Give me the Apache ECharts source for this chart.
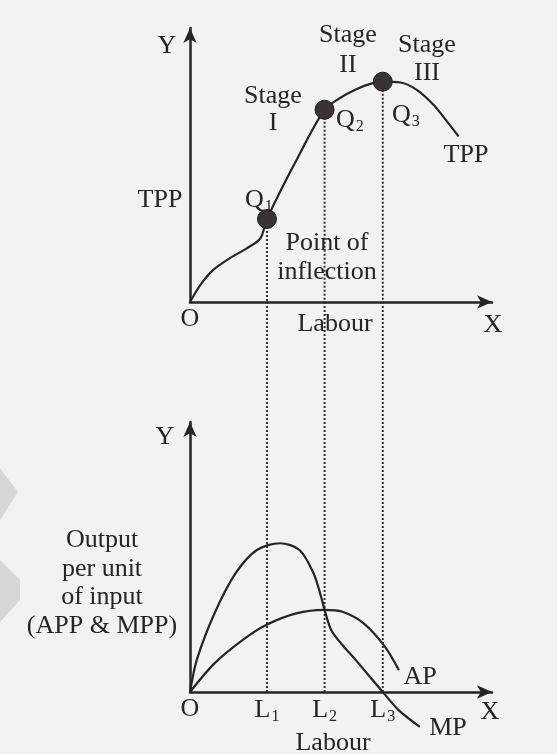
<!DOCTYPE html>
<html>
<head>
<meta charset="utf-8">
<script src="https://cdn.jsdelivr.net/npm/echarts@6/dist/echarts.min.js"></script>
<style>
html, body { margin: 0; padding: 0; background: #f1f2f1; }
#chart { width: 557px; height: 754px; }
</style>
</head>
<body>
<div id="chart"></div>
<script>
// labour at L1, L2, L3 (same positions as Q1, Q2, Q3)
const labourMarks = [25.8, 45.1, 64.6];
// TPP at Q1, Q2, Q3
const tppMarks = [30.5, 70.6, 80.9];
// total physical product curve [labour, output]
const tppCurve = [[0, 0], [3.9, 6.9], [7.8, 11.8], [13.4, 16.1], [19.0, 19.7], [23.6, 23.4], [25.8, 30.5],
  [35.2, 51.1], [45.1, 70.6], [50.3, 74.9], [55.9, 78.2], [60.4, 80.1], [64.6, 80.9], [70.5, 80.6],
  [76.0, 77.9], [81.6, 72.4], [86.1, 66.3], [90.0, 60.8]];
// marginal and average product curves
const mpCurve = [[0, 0], [2.3, 12], [8.2, 29.1], [15.3, 44.0], [22.4, 52.6], [30.2, 55.1], [36.7, 52.6],
  [41.4, 44.0], [44.0, 35.0], [45.1, 30.4], [47.3, 23.0], [51.0, 17.5], [55.5, 11.9], [64.6, 0],
  [69.9, -6.7], [77.0, -12.9]];
const apCurve = [[0, 0], [8.2, 10.6], [17.7, 19.3], [25.5, 24.8], [35.6, 29.1], [45.1, 30.4], [51.1, 29.7],
  [58.2, 25.4], [65.3, 16.8], [70.0, 8.1]];
const xTickNames = ['O', 'L', 'L', 'L'];

const serif = '"Liberation Serif", "Times New Roman", serif';
const ink = '#262424';
const chart = echarts.init(document.getElementById('chart'));

const axisLine = {
  show: true,
  onZero: true,
  symbol: ['none', 'arrow'],
  symbolSize: [10, 15],
  lineStyle: { color: ink, width: 2.5 }
};
const rich = {
  m: { fontFamily: serif, fontSize: 26, color: ink },
  s: { fontFamily: serif, fontSize: 16, color: ink, padding: [13, 0, 0, 1] }
};

function xLabel(v) {
  if (v === 0) return '{m|O}';
  let i = 0;
  labourMarks.forEach((m, k) => { if (Math.abs(m - v) < Math.abs(labourMarks[i] - v)) i = k; });
  return '{m|' + xTickNames[i + 1] + '}{s|' + (i + 1) + '}';
}

function txt(x, y, text, extra) {
  return {
    type: 'text', x: x, y: y, z: 10,
    style: Object.assign({
      text: text, fill: ink, font: '26px ' + serif,
      align: 'center', verticalAlign: 'middle', lineHeight: 28
    }, extra || {})
  };
}
function qLabel(x, y, n) {
  return txt(x, y, '{m|Q}{s|' + n + '}', { align: 'left', rich: rich });
}

const guides = labourMarks.map((l, i) => ({
  type: 'line', xAxisIndex: 0, yAxisIndex: 0, symbol: 'none', silent: true,
  data: [[l, tppMarks[i]], [l, 0]],
  lineStyle: { color: '#2e2e2e', width: 2, type: [2, 2] }, z: 1
}));
const links = labourMarks.map((l) => ({
  type: 'line', xAxisIndex: 2, yAxisIndex: 2, symbol: 'none', silent: true,
  data: [[l, 1], [l, 0]],
  lineStyle: { color: '#2e2e2e', width: 2, type: [2, 2] }, z: 1
}));

chart.setOption({
  backgroundColor: '#f1f2f1',
  animation: false,
  grid: [
    { left: 190, top: 28, width: 302, height: 274 },
    { left: 190, top: 422, width: 302, height: 270 },
    { left: 190, top: 302, width: 302, height: 390 }
  ],
  xAxis: [
    {
      gridIndex: 0, type: 'value', min: 0, max: 101.2, axisLine: axisLine,
      axisTick: { show: false }, splitLine: { show: false },
      axisLabel: { customValues: [0], formatter: xLabel, rich: rich, margin: 4 }
    },
    {
      gridIndex: 1, type: 'value', min: 0, max: 101.2, axisLine: axisLine,
      axisTick: { show: false }, splitLine: { show: false },
      axisLabel: { customValues: [0].concat(labourMarks), formatter: xLabel, rich: rich, margin: 4 }
    },
    { gridIndex: 2, type: 'value', min: 0, max: 101.2, show: false }
  ],
  yAxis: [
    {
      gridIndex: 0, type: 'value', min: 0, max: 100.6, axisLine: axisLine,
      axisTick: { show: false }, splitLine: { show: false }, axisLabel: { show: false }
    },
    {
      gridIndex: 1, type: 'value', min: 0, max: 100, axisLine: axisLine,
      axisTick: { show: false }, splitLine: { show: false }, axisLabel: { show: false }
    },
    { gridIndex: 2, type: 'value', min: 0, max: 1, show: false }
  ],
  series: guides.concat(links).concat([
    {
      name: 'TPP', type: 'line', xAxisIndex: 0, yAxisIndex: 0, data: tppCurve,
      smooth: 0.3, symbol: 'none', lineStyle: { color: ink, width: 2.2 }, z: 3
    },
    {
      name: 'Q', type: 'scatter', xAxisIndex: 0, yAxisIndex: 0,
      data: labourMarks.map((l, i) => [l, tppMarks[i]]),
      symbolSize: 19, itemStyle: { color: '#3b3236', opacity: 1, borderColor: '#1c1a1b', borderWidth: 1 }, z: 5
    },
    {
      name: 'MP', type: 'line', xAxisIndex: 1, yAxisIndex: 1, data: mpCurve, clip: false,
      smooth: 0.3, symbol: 'none', lineStyle: { color: ink, width: 2.2 }, z: 3
    },
    {
      name: 'AP', type: 'line', xAxisIndex: 1, yAxisIndex: 1, data: apCurve, clip: false,
      smooth: 0.3, symbol: 'none', lineStyle: { color: ink, width: 2.2 }, z: 3
    }
  ]),
  graphic: [
    { type: 'polygon', z: 0, shape: { points: [[0, 468], [18, 492], [0, 520]] }, style: { fill: '#d6d7d7' } },
    { type: 'polygon', z: 0, shape: { points: [[0, 560], [20, 580], [20, 600], [0, 622]] }, style: { fill: '#d6d7d7' } },
    txt(167, 46, 'Y'),
    txt(160, 200, 'TPP'),
    txt(273, 110, 'Stage\nI', { lineHeight: 27 }),
    txt(348, 50, 'Stage\nII', { lineHeight: 30 }),
    txt(427, 59, 'Stage\nIII', { lineHeight: 28 }),
    qLabel(245, 200, 1),
    qLabel(336, 120, 2),
    qLabel(392, 115, 3),
    txt(466, 155, 'TPP'),
    txt(327, 258, 'Point of\ninflection', { lineHeight: 29 }),
    txt(335, 324, 'Labour'),
    txt(493, 325, 'X'),
    txt(165, 437, 'Y'),
    txt(102, 583, 'Output\nper unit\nof input\n(APP & MPP)', { lineHeight: 28.5 }),
    txt(420, 677, 'AP'),
    txt(448, 728, 'MP'),
    txt(490, 712, 'X'),
    txt(333, 743, 'Labour')
  ]
});
</script>
</body>
</html>
